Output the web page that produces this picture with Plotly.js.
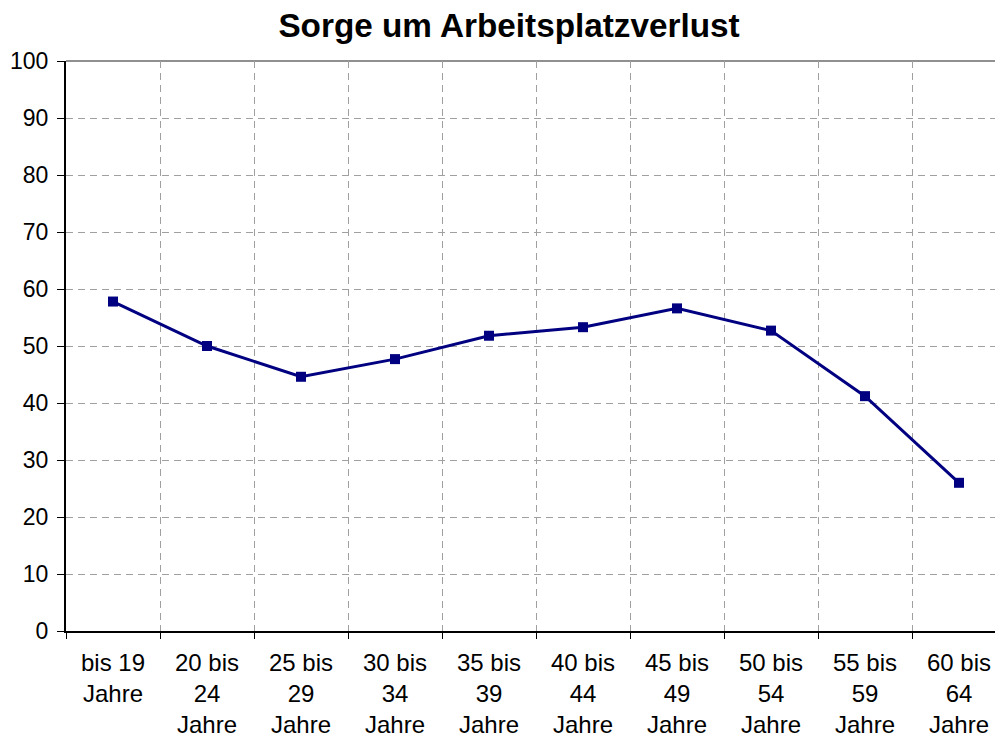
<!DOCTYPE html>
<html>
<head>
<meta charset="utf-8">
<script src="https://cdn.plot.ly/plotly-3.0.1.min.js"></script>
<style>
html,body{margin:0;padding:0;overflow:hidden;background:#fff;}
#chart{width:1010px;height:736px;}
</style>
</head>
<body>
<div id="chart"></div>
<script>
const categories = ["bis 19<br>Jahre", "20 bis<br>24<br>Jahre", "25 bis<br>29<br>Jahre", "30 bis<br>34<br>Jahre", "35 bis<br>39<br>Jahre", "40 bis<br>44<br>Jahre", "45 bis<br>49<br>Jahre", "50 bis<br>54<br>Jahre", "55 bis<br>59<br>Jahre", "60 bis<br>64<br>Jahre"];
const values = [57.8, 50.0, 44.6, 47.7, 51.8, 53.3, 56.6, 52.7, 41.2, 26.0];
const yTicks = [0, 10, 20, 30, 40, 50, 60, 70, 80, 90, 100];
const titleText = "Sorge um Arbeitsplatzverlust";

const trace = {
  type: "scatter",
  mode: "lines+markers",
  x: categories,
  y: values,
  line: {color: "#000080", width: 3},
  marker: {symbol: "square", size: 10, color: "#000080"},
  cliponaxis: false,
  hoverinfo: "none"
};

const layout = {
  width: 1010,
  height: 736,
  margin: {l: 66, r: 4, t: 61, b: 105},
  paper_bgcolor: "#ffffff",
  plot_bgcolor: "#ffffff",
  showlegend: false,
  font: {family: "Liberation Sans, Arial, sans-serif", color: "#000", size: 23},
  title: {
    text: "<b>" + titleText + "</b>",
    font: {family: "Liberation Sans, Arial, sans-serif", size: 33.3, color: "#000"},
    x: 0.504, xref: "container", xanchor: "center",
    y: 0.965, yref: "container", yanchor: "middle"
  },
  xaxis: {
    type: "category",
    tickson: "boundaries",
    ticks: "outside",
    ticklen: 6,
    tickcolor: "#000",
    showline: true,
    linecolor: "#000",
    linewidth: 2,
    showgrid: true,
    gridcolor: "#a0a0a0",
    griddash: "7px,5px",
    gridwidth: 1,
    zeroline: false,
    tickangle: 0,
    ticklabelstandoff: 9,
    tickfont: {size: 24, color: "#000"},
    range: [-0.5, 9.5]
  },
  yaxis: {
    range: [0, 100],
    tickvals: yTicks,
    ticktext: yTicks.map(String),
    ticks: "outside",
    ticklen: 7,
    tickcolor: "#000",
    showline: true,
    linecolor: "#000",
    linewidth: 2,
    showgrid: true,
    gridcolor: "#a0a0a0",
    griddash: "7px,5px",
    gridwidth: 1,
    zeroline: false,
    ticklabelstandoff: 4,
    tickfont: {size: 23, color: "#000"}
  },
  shapes: [{
    type: "line", xref: "paper", yref: "paper",
    x0: 0, x1: 1, y0: 1, y1: 1,
    line: {color: "#909090", width: 2},
    layer: "below"
  }]
};

Plotly.newPlot("chart", [trace], layout, {displayModeBar: false, staticPlot: true});
</script>
</body>
</html>
